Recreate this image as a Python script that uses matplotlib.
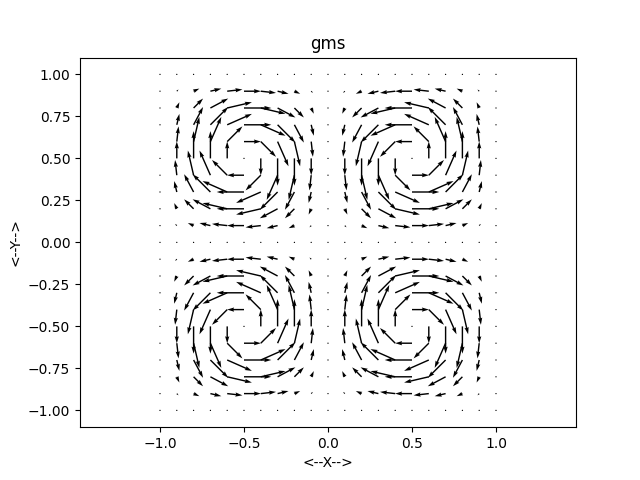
import numpy as np
import matplotlib
matplotlib.use('Agg')
import matplotlib.pyplot as plt

# grid points along each axis
xs = np.round(np.arange(-1.0, 1.01, 0.1), 2)
ys = np.round(np.arange(-1.0, 1.01, 0.1), 2)

# top-left vortex, interior points x=-0.9..-0.1 (cols), y=0.9..0.1 (rows, top first)
tl_u = [
    [0.06, 0.20, 0.38, 0.53, 0.59, 0.53, 0.38, 0.20, 0.06],
    [0.09, 0.33, 0.62, 0.86, 0.95, 0.86, 0.62, 0.33, 0.09],
    [0.09, 0.33, 0.62, 0.86, 0.95, 0.86, 0.62, 0.33, 0.09],
    [0.06, 0.20, 0.38, 0.53, 0.59, 0.53, 0.38, 0.20, 0.06],
    [0.00, 0.00, 0.00, 0.00, 0.00, 0.00, 0.00, 0.00, 0.00],
    [-0.06, -0.20, -0.38, -0.53, -0.59, -0.53, -0.38, -0.20, -0.06],
    [-0.09, -0.33, -0.62, -0.86, -0.95, -0.86, -0.62, -0.33, -0.09],
    [-0.09, -0.33, -0.62, -0.86, -0.95, -0.86, -0.62, -0.33, -0.09],
    [-0.06, -0.20, -0.38, -0.53, -0.59, -0.53, -0.38, -0.20, -0.06],
]
tl_v = [
    [0.06, 0.09, 0.09, 0.06, 0.00, -0.06, -0.09, -0.09, -0.06],
    [0.20, 0.33, 0.33, 0.20, 0.00, -0.20, -0.33, -0.33, -0.20],
    [0.38, 0.62, 0.62, 0.38, 0.00, -0.38, -0.62, -0.62, -0.38],
    [0.53, 0.86, 0.86, 0.53, 0.00, -0.53, -0.86, -0.86, -0.53],
    [0.59, 0.95, 0.95, 0.59, 0.00, -0.59, -0.95, -0.95, -0.59],
    [0.53, 0.86, 0.86, 0.53, 0.00, -0.53, -0.86, -0.86, -0.53],
    [0.38, 0.62, 0.62, 0.38, 0.00, -0.38, -0.62, -0.62, -0.38],
    [0.20, 0.33, 0.33, 0.20, 0.00, -0.20, -0.33, -0.33, -0.20],
    [0.06, 0.09, 0.09, 0.06, 0.00, -0.06, -0.09, -0.09, -0.06],
]

# quadrant with zero border, rows y=0..1, cols x=-1..0
qu = np.zeros((11, 11))
qv = np.zeros((11, 11))
qu[1:10, 1:10] = np.array(tl_u)[::-1]
qv[1:10, 1:10] = np.array(tl_v)[::-1]

# the other three vortices are mirror images
U = np.zeros((21, 21))
V = np.zeros((21, 21))
U[10:, :11] = qu
V[10:, :11] = qv
U[10:, 10:] = -qu[:, ::-1]
V[10:, 10:] = qv[:, ::-1]
U[:11, :11] = qu[::-1, :]
V[:11, :11] = -qv[::-1, :]
U[:11, 10:] = -qu[::-1, ::-1]
V[:11, 10:] = -qv[::-1, ::-1]

X, Y = np.meshgrid(xs, ys)

plt.figure(figsize=(6.4, 4.8), dpi=100)
plt.quiver(X, Y, U, V)
plt.axis('equal')
plt.title('gms')
plt.xlabel('<--X-->')
plt.ylabel('<--Y-->')
plt.savefig('out.png')
